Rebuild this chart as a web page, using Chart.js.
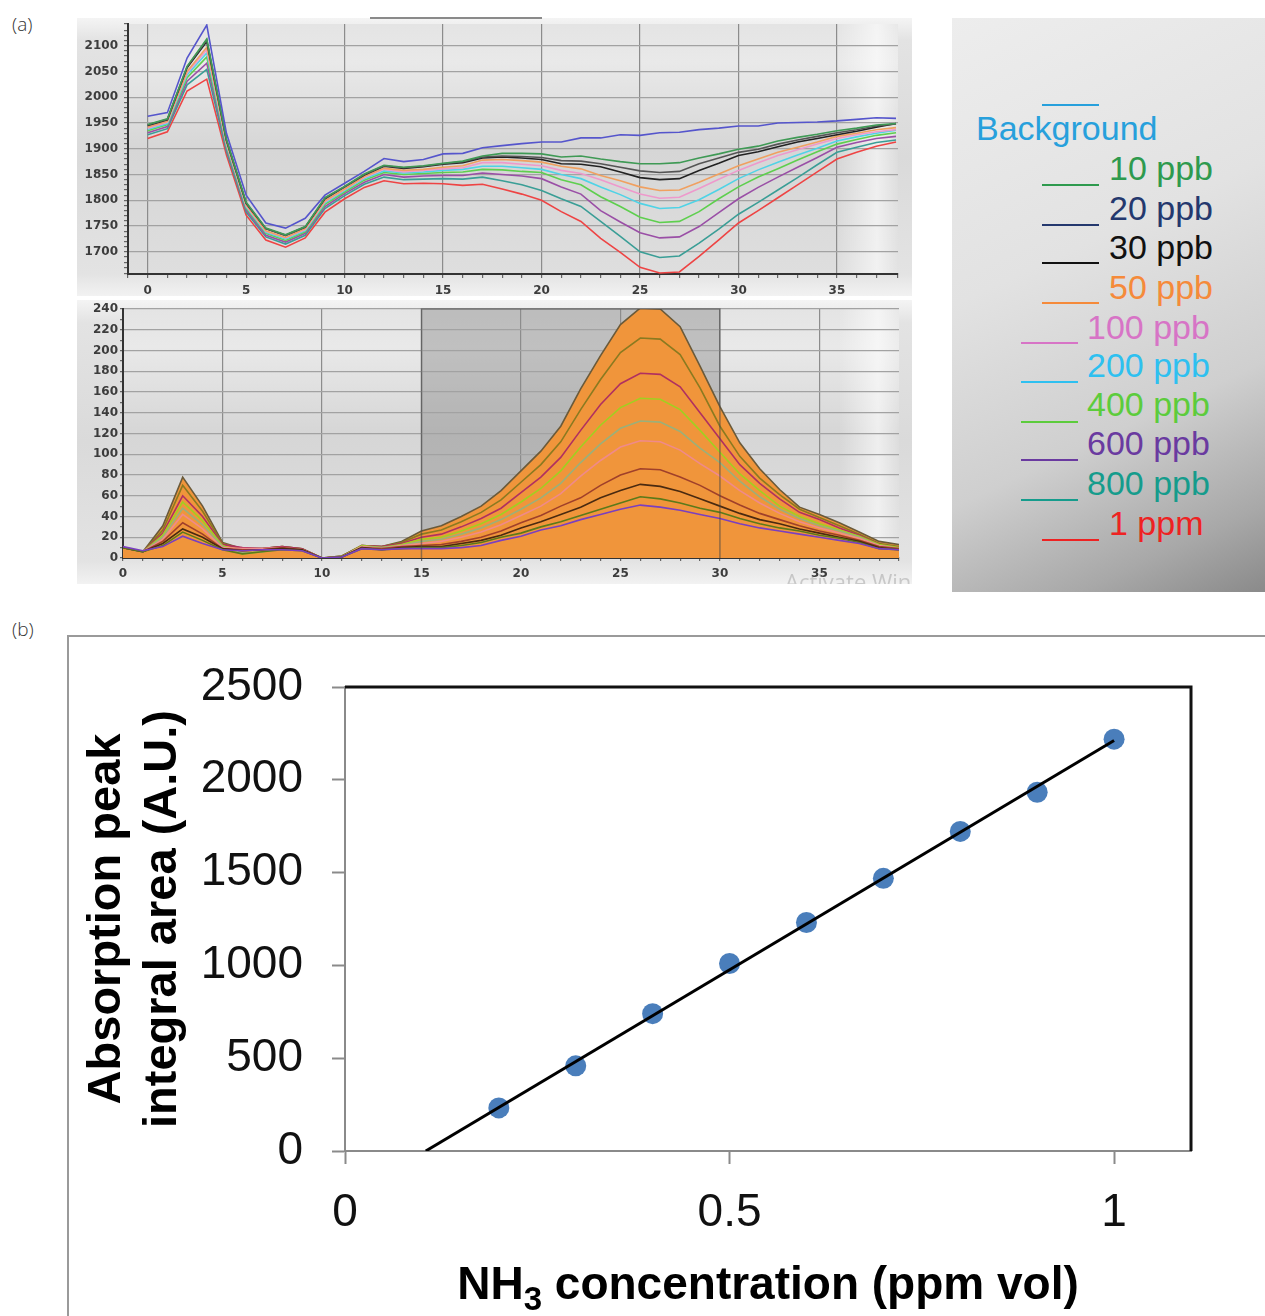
<!DOCTYPE html>
<html><head><meta charset="utf-8">
<script src="https://cdn.jsdelivr.net/npm/chart.js@4.4.0/dist/chart.umd.min.js"></script>
<style>
body{margin:0;background:#fff;width:1265px;height:1316px;position:relative;overflow:hidden;font-family:"Liberation Sans",Arial,sans-serif;}
.abs{position:absolute}
.plab{position:absolute;font-family:"Open Sans","Noto Sans",sans-serif;font-size:19px;color:#333;font-weight:300}
.apanel{position:absolute;background:linear-gradient(to bottom,#f4f4f4 0%,#e3e3e3 8%,#dadada 50%,#e3e3e3 92%,#f2f2f2 100%);overflow:hidden}
#leg{position:absolute;left:952px;top:18px;width:313px;height:574px;background:linear-gradient(155deg,#ededed 0%,#e2e2e2 40%,#cfcfcf 68%,#a8a8a8 88%,#8a8a8a 100%)}
.lt{position:absolute;font-size:34px;line-height:34px;white-space:nowrap;font-family:"Liberation Sans",Arial,sans-serif}
.ll{position:absolute;height:2px;width:57px}
</style></head>
<body>
<div class="plab" style="left:12px;top:11px">(a)</div>
<div class="plab" style="left:12px;top:616px">(b)</div>

<div class="apanel" id="pa1" style="left:77px;top:18px;width:835px;height:278px"><canvas id="c1" width="835" height="278"></canvas></div>
<div class="abs" style="left:370px;top:17px;width:172px;height:2px;background:#8a8a8a"></div>
<div class="apanel" id="pa2" style="left:77px;top:300px;width:835px;height:284px"><canvas id="c2" width="835" height="284"></canvas>
  <div class="abs" style="left:708px;top:266px;font-family:'Open Sans',sans-serif;font-size:22px;color:rgba(150,150,150,0.45);white-space:nowrap">Activate Windows</div>
</div>

<div id="leg"></div>

<div class="abs" style="left:68px;top:635px;width:1197px;height:2px;background:#9a9a9a"></div>
<div class="abs" style="left:67px;top:635px;width:2px;height:681px;background:#9a9a9a"></div>
<canvas id="cb" class="abs" style="left:69px;top:637px" width="1196" height="679"></canvas>

<script>
// ---------- DATA: panel (a) top, raw spectra ----------
const xTop = [0,1,2,3,4,5,6,7,8,9,10,11,12,13,14,15,16,17,18,19,20,21,22,23,24,25,26,27,28,29,30,31,32,33,34,35,36,37,38];
const specBackground = [1963,1970,2076,2140,1930,1810,1756,1746,1765,1810,1833,1856,1881,1875,1879,1890,1891,1902,1906,1910,1913,1913,1921,1921,1927,1926,1931,1932,1937,1940,1944,1944,1950,1951,1952,1954,1957,1960,1959];
const spec10 = [1947,1958,2060,2113,1918,1796,1746,1733,1749,1805,1827,1851,1868,1864,1867,1872,1876,1886,1891,1891,1890,1884,1886,1880,1875,1871,1871,1873,1882,1890,1899,1905,1915,1922,1928,1935,1940,1946,1949];
const spec20 = [1946,1957,2059,2111,1917,1795,1745,1732,1748,1804,1826,1850,1867,1863,1866,1871,1875,1884,1886,1885,1883,1877,1876,1871,1864,1857,1854,1856,1871,1882,1893,1899,1909,1917,1924,1931,1937,1944,1948];
const spec30 = [1945,1956,2057,2108,1916,1794,1745,1732,1748,1803,1826,1849,1866,1862,1865,1870,1873,1882,1884,1882,1879,1871,1870,1865,1855,1844,1840,1842,1858,1872,1887,1894,1904,1913,1920,1927,1934,1942,1949];
const spec50 = [1942,1953,2050,2097,1912,1791,1741,1728,1745,1799,1822,1846,1862,1858,1860,1864,1867,1878,1879,1877,1874,1866,1861,1848,1838,1826,1819,1820,1835,1851,1867,1880,1893,1903,1913,1924,1930,1937,1941];
const spec100 = [1940,1951,2047,2092,1910,1789,1740,1727,1743,1797,1821,1844,1860,1855,1858,1861,1863,1873,1873,1870,1867,1858,1852,1840,1826,1812,1804,1806,1823,1841,1858,1873,1887,1898,1909,1920,1927,1933,1937];
const spec200 = [1938,1949,2043,2086,1907,1787,1738,1725,1741,1795,1819,1842,1857,1853,1855,1858,1860,1866,1866,1863,1860,1850,1842,1826,1811,1794,1784,1786,1801,1821,1842,1859,1874,1888,1901,1915,1923,1930,1936];
const spec400 = [1935,1947,2038,2078,1904,1785,1736,1722,1739,1792,1816,1839,1854,1850,1852,1854,1855,1860,1859,1856,1854,1840,1830,1807,1788,1767,1757,1759,1778,1803,1826,1845,1861,1878,1894,1909,1918,1926,1931];
const spec600 = [1931,1943,2031,2066,1900,1781,1732,1719,1736,1788,1813,1835,1850,1845,1847,1848,1848,1853,1850,1847,1842,1826,1812,1780,1758,1737,1727,1729,1749,1776,1803,1825,1845,1864,1883,1903,1912,1920,1924];
const spec800 = [1927,1939,2024,2054,1895,1777,1729,1715,1732,1784,1809,1831,1845,1840,1841,1842,1841,1845,1838,1830,1819,1803,1788,1759,1730,1700,1689,1692,1717,1744,1773,1796,1820,1844,1869,1893,1903,1912,1917];
const spec1000 = [1920,1933,2012,2035,1888,1771,1723,1709,1727,1777,1803,1825,1838,1832,1833,1832,1829,1831,1822,1812,1800,1778,1759,1726,1699,1670,1659,1661,1691,1723,1756,1780,1805,1830,1855,1880,1893,1905,1913];

// ---------- DATA: panel (a) bottom, absorption (difference) ----------
const xBot = [0,1,2,3,4,5,6,7,8,9,10,11,12,13,14,15,16,17,18,19,20,21,22,23,24,25,26,27,28,29,30,31,32,33,34,35,36,37,38,39];
const abs10 = [11,7,11,21,14,8,7,8,8,7,0,1,9,8,9,9,9,10,12,17,21,27,31,37,42,47,51,49,46,42,38,33,29,26,23,20,17,14,9,8];
const abs20 = [10,6,12,25,17,8,4,6,8,7,0,1,9,8,9,10,10,12,15,20,24,30,35,41,47,53,59,57,53,48,44,38,33,29,26,22,19,15,9,8];
const abs30 = [10,6,14,28,20,9,7,8,9,8,0,1,10,8,10,11,11,14,17,22,29,35,42,49,58,65,71,69,64,57,50,43,37,33,28,24,20,16,10,8];
const abs50 = [10,6,16,34,23,9,8,8,10,8,0,1,10,9,11,12,13,16,20,26,34,41,50,58,70,80,86,85,78,70,60,51,43,37,31,26,22,17,11,9];
const abs100 = [10,6,18,42,28,10,9,9,10,8,0,1,11,9,12,14,16,20,25,32,41,50,62,79,94,107,113,112,104,91,79,65,53,43,35,29,24,19,12,9];
const abs200 = [10,6,20,48,32,11,5,6,9,8,0,1,11,10,12,16,18,23,29,37,47,58,72,92,110,125,132,131,122,106,92,74,59,47,38,31,26,20,12,9];
const abs400 = [10,6,22,54,36,12,4,6,9,8,0,1,12,10,13,18,20,26,33,42,54,67,84,107,128,145,154,153,143,123,102,81,65,50,40,33,27,21,13,10];
const abs600 = [10,6,24,60,40,13,10,9,11,9,0,1,12,11,14,20,23,30,38,48,63,78,97,123,148,168,178,177,165,140,115,90,72,57,44,37,29,22,13,10];
const abs800 = [10,6,27,70,45,14,9,9,11,9,0,2,12,11,15,23,27,35,44,56,73,90,112,143,172,198,212,211,196,164,127,98,77,61,47,39,31,23,14,11];
const abs1000 = [10,6,31,78,50,15,9,9,11,9,0,2,12,11,16,26,31,40,50,65,84,103,127,163,195,225,241,240,223,185,146,111,86,66,49,42,34,25,16,13];
const shadeRange = [15, 30];

// ---------- DATA: legend ----------
const legendLabels = ['Background','10 ppb','20 ppb','30 ppb','50 ppb','100 ppb','200 ppb','400 ppb','600 ppb','800 ppb','1 ppm'];
const legendColors = ['#27a0dc','#2e9a4e','#24386e','#111111','#f58a3a','#d774c6','#2ec0f0','#5ccc3c','#6a3aa0','#159c8c','#ee2222'];

// ---------- DATA: panel (b) calibration ----------
const concPpm = [0.2,0.3,0.4,0.5,0.6,0.7,0.8,0.9,1.0];
const peakArea = [232,459,740,1010,1231,1469,1722,1933,2219];
const fitX = [0.105, 1.0];
const fitY = [0, 2212];
const bXTicks = [0, 0.5, 1];
const bYTicks = [0, 500, 1000, 1500, 2000, 2500];
const bXTitle = ['NH', '3', ' concentration (ppm vol)'];
const bYTitle = ['Absorption peak', 'integral area (A.U.)'];

// ---------- legend (HTML) ----------
const legLayout = [ // [textLeft, textCenterY, lineLeft, lineY] in page px
  [976,128,1042,105],[1109,168,1042,185],[1109,208,1042,225],[1109,247,1042,263],[1109,287,1042,303],
  [1087,327,1021,343],[1087,365,1021,382],[1087,404,1021,422],[1087,443,1021,460],[1087,483,1021,500],[1109,523,1042,540]];
const leg = document.getElementById('leg');
legendLabels.forEach((t,i)=>{
  const L = legLayout[i];
  const d = document.createElement('div'); d.className='lt'; d.textContent=t; d.style.color=legendColors[i];
  d.style.left=(L[0]-952)+'px'; d.style.top=(L[1]-18-17)+'px'; leg.appendChild(d);
  const l = document.createElement('div'); l.className='ll'; l.style.background=legendColors[i];
  l.style.left=(L[2]-952)+'px'; l.style.top=(L[3]-18-1)+'px'; leg.appendChild(l);
});

// ---------- plugins ----------
const areaBg = {
  id:'areaBg',
  beforeDraw(chart, args, opts){
    const {ctx, chartArea:a} = chart;
    ctx.save();
    const g = ctx.createLinearGradient(0,a.top,0,a.bottom);
    g.addColorStop(0,'#e4e4e4'); g.addColorStop(0.15,'#e9e9e9'); g.addColorStop(0.5,'#d6d6d6'); g.addColorStop(1,'#dedede');
    ctx.fillStyle=g; ctx.fillRect(a.left,a.top,a.right-a.left,a.bottom-a.top);
    const g2 = ctx.createLinearGradient(a.right-60,0,a.right,0);
    g2.addColorStop(0,'rgba(255,255,255,0)'); g2.addColorStop(0.65,'rgba(255,255,255,0.6)'); g2.addColorStop(1,'rgba(255,255,255,0.15)');
    ctx.fillStyle=g2; ctx.fillRect(a.right-60,a.top,60,a.bottom-a.top);
    if (opts && opts.shade) {
      const xs = chart.scales.x, ys = chart.scales.y;
      const x0 = xs.getPixelForValue(opts.shade[0]), x1 = xs.getPixelForValue(opts.shade[1]);
      const yt = ys.getPixelForValue(ys.max), yb = ys.getPixelForValue(ys.min);
      ctx.fillStyle='rgba(110,110,110,0.33)';
      ctx.fillRect(x0,yt,x1-x0,yb-yt);
    }
    ctx.restore();
  },
  afterDatasetsDraw(chart, args, opts){
    if (!(opts && opts.shade)) return;
    const {ctx} = chart; const xs = chart.scales.x, ys = chart.scales.y;
    const x0 = xs.getPixelForValue(opts.shade[0]), x1 = xs.getPixelForValue(opts.shade[1]);
    const yt = ys.getPixelForValue(ys.max), yb = ys.getPixelForValue(ys.min);
    ctx.save(); ctx.strokeStyle='rgba(70,70,70,0.55)'; ctx.lineWidth=1.5;
    ctx.beginPath(); ctx.moveTo(x0,yb); ctx.lineTo(x0,yt); ctx.lineTo(x1,yt); ctx.lineTo(x1,yb); ctx.stroke();
    ctx.restore();
  }
};
const fontB = '"Liberation Sans", Arial, "DejaVu Sans", sans-serif';
const boxBorder = {
  id:'boxBorder',
  afterDraw(chart){
    const {ctx, chartArea:a} = chart;
    ctx.save(); ctx.strokeStyle='#111'; ctx.lineWidth=3;
    ctx.beginPath(); ctx.moveTo(a.left,a.top); ctx.lineTo(a.right,a.top); ctx.lineTo(a.right,a.bottom); ctx.stroke();
    // x-axis title with a real subscript
    const big = 'bold 46px ' + fontB, small = 'bold 33px ' + fontB;
    ctx.fillStyle = '#000'; ctx.textBaseline = 'alphabetic'; ctx.textAlign = 'left';
    ctx.font = big; const w0 = ctx.measureText(bXTitle[0]).width, w2 = ctx.measureText(bXTitle[2]).width;
    ctx.font = small; const w1 = ctx.measureText(bXTitle[1]).width;
    let x = (a.left + a.right) / 2 - (w0 + w1 + w2) / 2;
    const base = chart.height - 17;
    ctx.font = big; ctx.fillText(bXTitle[0], x, base); x += w0;
    ctx.font = small; ctx.fillText(bXTitle[1], x, base + 11); x += w1;
    ctx.font = big; ctx.fillText(bXTitle[2], x, base);
    ctx.restore();
  }
};
const noVPad = s => { s.paddingTop = 0; s.paddingBottom = 0; };

const tickFontA = {family:'"DejaVu Sans", Verdana, sans-serif', size:12, weight:'bold'};

// ---------- chart (a) top ----------
const topSeries = [
  [specBackground,'#5555cc'],[spec10,'#3f9a55'],[spec20,'#555555'],[spec30,'#222222'],[spec50,'#f0a060'],
  [spec100,'#ee99cc'],[spec200,'#4fd3e6'],[spec400,'#5ecf4e'],[spec600,'#9a4fa6'],[spec800,'#3a9e96'],[spec1000,'#ee4444']];
new Chart(document.getElementById('c1'), {
  type:'line',
  data:{ labels:xTop, datasets: topSeries.map((s,i)=>({label:legendLabels[i], data:xTop.map((x,j)=>({x, y:s[0][j]})), borderColor:s[1], borderWidth:1.6, pointRadius:0, tension:0, fill:false})) },
  options:{
    responsive:false, animation:false, events:[],
    layout:{padding:{top:6,right:14,left:0,bottom:0}},
    plugins:{legend:{display:false}, tooltip:{enabled:false}, areaBg:{}},
    scales:{
      x:{type:'linear', min:-1, max:38.1,
        afterFit:s=>{s.height=22},
        ticks:{stepSize:1, autoSkip:false, maxRotation:0, padding:6, color:'#3c3c3c', font:tickFontA,
          callback:v=> (v%5===0 && v>=0 && v<=35) ? String(v) : ''},
        grid:{color:c=> (c.tick && c.tick.value%5===0 && c.tick.value>=0) ? '#8c8c8c' : 'rgba(0,0,0,0)', lineWidth:1.2, tickLength:4, tickColor:'#666'},
        border:{color:'#333', width:2}},
      y:{type:'linear', min:1657, max:2142,
        afterFit:s=>{s.width=51; noVPad(s);},
        ticks:{stepSize:10, autoSkip:false, padding:6, color:'#3c3c3c', font:tickFontA,
          callback:v=> (v%50===0 && v>=1700 && v<=2100) ? String(v) : ''},
        grid:{color:c=> (c.tick && c.tick.value%50===0) ? '#a2a2a2' : 'rgba(0,0,0,0)', lineWidth:1.2, tickLength:4, tickColor:'#666'},
        border:{color:'#333', width:2}}
    }
  },
  plugins:[areaBg]
});

// ---------- chart (a) bottom ----------
const botSeries = [
  [abs10,'#7a3fc0'],[abs20,'#5b7a1a'],[abs30,'#4a2a10'],[abs50,'#a0402a'],[abs100,'#f08a8a'],
  [abs200,'#9ab07a'],[abs400,'#a0d020'],[abs600,'#b03060'],[abs800,'#8a7a20'],[abs1000,'#6a5a3a']];
new Chart(document.getElementById('c2'), {
  type:'line',
  data:{ labels:xBot, datasets: botSeries.map((s,i)=>({label:legendLabels[i+1], data:xBot.map((x,j)=>({x, y:s[0][j]})), borderColor:s[1], borderWidth:1.6, pointRadius:0, tension:0, fill:'origin', backgroundColor:'#f0953b'})) },
  options:{
    responsive:false, animation:false, events:[],
    layout:{padding:{top:9,right:13,left:0,bottom:0}},
    plugins:{legend:{display:false}, tooltip:{enabled:false}, filler:{drawTime:'beforeDatasetsDraw'}, areaBg:{shade:shadeRange}},
    scales:{
      x:{type:'linear', min:0, max:39,
        afterFit:s=>{s.height=26},
        ticks:{stepSize:1, autoSkip:false, maxRotation:0, padding:6, color:'#3c3c3c', font:tickFontA,
          callback:v=> (v%5===0 && v<=35) ? String(v) : ''},
        grid:{color:c=> (c.tick && c.tick.value%5===0) ? '#8c8c8c' : 'rgba(0,0,0,0)', lineWidth:1.2, tickLength:3, tickColor:'#666'},
        border:{color:'#333', width:2}},
      y:{type:'linear', min:0, max:240,
        afterFit:s=>{s.width=46; noVPad(s);},
        ticks:{stepSize:10, autoSkip:false, padding:2, color:'#3c3c3c', font:tickFontA,
          callback:v=> (v%20===0) ? String(v) : ''},
        grid:{color:c=> (c.tick && c.tick.value%20===0) ? '#a2a2a2' : 'rgba(0,0,0,0)', lineWidth:1.2, tickLength:3, tickColor:'#666'},
        border:{color:'#333', width:2}}
    }
  },
  plugins:[areaBg]
});

// ---------- chart (b) ----------
new Chart(document.getElementById('cb'), {
  type:'scatter',
  data:{ datasets:[
    {label:'fit', data:fitX.map((x,i)=>({x, y:fitY[i]})), showLine:true, borderColor:'#000', borderWidth:3, pointRadius:0, fill:false},
    {label:'NH3', data:concPpm.map((x,i)=>({x, y:peakArea[i]})), pointRadius:10.5, pointBackgroundColor:'#4a7ebb', backgroundColor:'#4a7ebb', borderWidth:0, pointBorderWidth:0}
  ]},
  options:{
    responsive:false, animation:false, events:[],
    layout:{padding:{top:50,right:74,left:0,bottom:0}},
    plugins:{legend:{display:false}, tooltip:{enabled:false}},
    scales:{
      x:{type:'linear', min:0, max:1.1,
        afterBuildTicks:s=>{s.ticks=bXTicks.map(v=>({value:v}))},
        afterFit:s=>{s.height=165},
        ticks:{padding:22, maxRotation:0, color:'#111', font:{family:fontB, size:46}, callback:v=>String(v)},
        grid:{drawOnChartArea:false, drawTicks:true, tickLength:13, tickColor:'#8a8a8a', tickWidth:2},
        border:{color:'#8a8a8a', width:2}},
      y:{type:'linear', min:0, max:2500,
        afterBuildTicks:s=>{s.ticks=bYTicks.map(v=>({value:v}))},
        afterFit:s=>{s.width=276; noVPad(s);},
        ticks:{padding:29, color:'#111', font:{family:fontB, size:46}, callback:v=>String(v)},
        grid:{drawOnChartArea:false, drawTicks:true, tickLength:13, tickColor:'#8a8a8a', tickWidth:2},
        border:{color:'#8a8a8a', width:2},
        title:{display:true, text:bYTitle, color:'#000', font:{family:fontB, size:47, weight:'bold', lineHeight:1.19}, padding:{top:10,bottom:0}}}
    }
  },
  plugins:[boxBorder]
});
</script>
</body></html>
